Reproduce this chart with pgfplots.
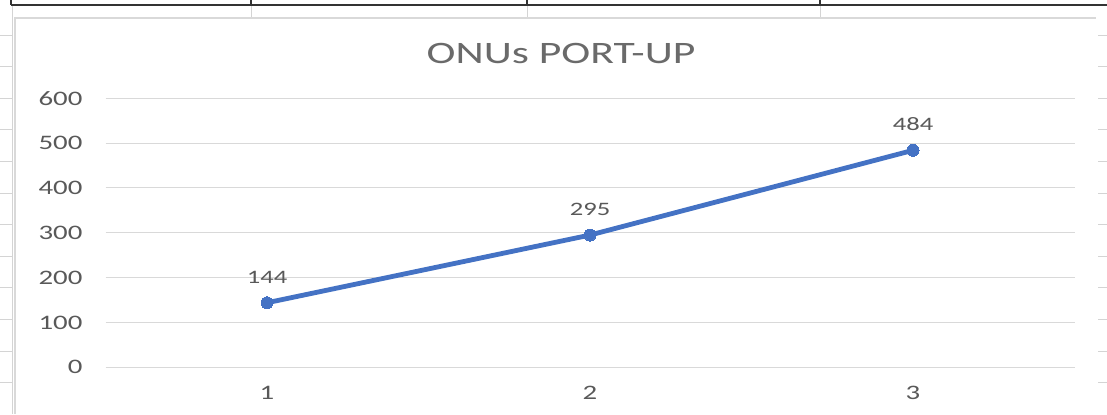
\documentclass[border=0pt]{standalone}
\usepackage{pgfplots}
\pgfplotsset{compat=1.18}
\usepackage{fontspec}
\setmainfont{Carlito}[FakeStretch=1.4]
\definecolor{lineblue}{HTML}{4472C4}
\definecolor{txtgray}{HTML}{595959}
\definecolor{titlegray}{HTML}{6A6A6A}
\definecolor{gridgray}{HTML}{D9D9D9}
\definecolor{cellgray}{HTML}{D4D4D4}
\begin{document}
\begin{tikzpicture}
% canvas 1107x414 px at 0.5pt per px
\path[use as bounding box, fill=white] (0,0) rectangle (553.5pt,207pt);
% spreadsheet background
\foreach \yy in {35,66.6,98.2,129.8,161.4,193,224.6,256.2,287.8,319.4,351,382.6} {
  \draw[cellgray, line width=0.5pt] (0,{(414-\yy)*0.5pt}) -- (6pt,{(414-\yy)*0.5pt});
  \draw[cellgray, line width=0.5pt] (549pt,{(414-\yy)*0.5pt}) -- (553.5pt,{(414-\yy)*0.5pt});
}
\draw[cellgray, line width=0.5pt] (6pt,204.5pt) -- (6pt,0);
\foreach \xx in {125.5,263.5,410} {
  \draw[cellgray, line width=0.5pt] (\xx pt,204.5pt) -- (\xx pt,198pt);
}
\draw[black!80, line width=0.8pt] (5.5pt,204.5pt) -- (553.5pt,204.5pt);
\foreach \xx in {5.5,125.5,263.5,410} {
  \draw[black!80, line width=0.8pt] (\xx pt,207pt) -- (\xx pt,204.5pt);
}
% chart area border
\draw[gridgray, line width=0.6pt] (7.5pt,0) -- (7.5pt,198pt) -- (548pt,198pt);
% title
\node[text=titlegray, font=\fontsize{15.6}{18}\selectfont, anchor=center] at (280.5pt,180.5pt) {ONUs PORT-UP};
\begin{axis}[
  at={(52.75pt,23.35pt)}, anchor=south west,
  scale only axis,
  width=484.5pt, height=134.5pt,
  xmin=0.5, xmax=3.5,
  ymin=0, ymax=600,
  xtick={1,2,3},
  ytick={0,100,...,600},
  axis line style={draw=none},
  major tick length=0pt,
  ymajorgrids,
  grid style={gridgray, line width=0.5pt},
  tick label style={text=txtgray, font=\fontsize{10.3}{12}\selectfont},
  /pgf/number format/assume math mode=true,
  yticklabel style={xshift=-8pt},
  xticklabel style={yshift=-6pt},
  clip=false,
]
\addplot[lineblue, line width=2.4pt, mark=*, mark size=3pt,
  mark options={fill=lineblue, draw=lineblue, line width=0pt},
  nodes near coords,
  every node near coord/.append style={text=txtgray, font=\fontsize{9.5}{11}\selectfont, yshift=6.5pt},
] coordinates {(1,144) (2,295) (3,484)};
\end{axis}
\end{tikzpicture}
\end{document}
